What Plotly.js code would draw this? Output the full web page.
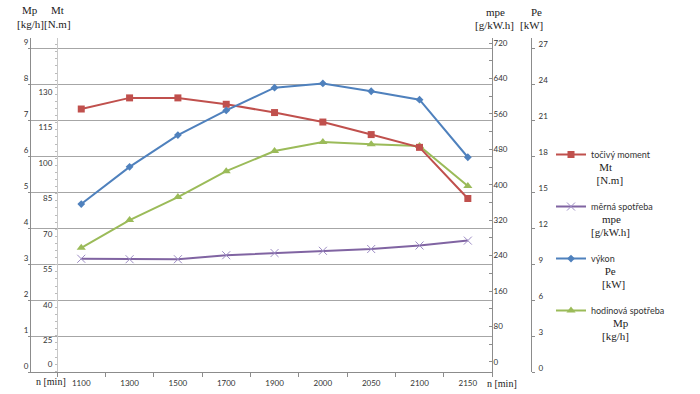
<!DOCTYPE html>
<html>
<head>
<meta charset="utf-8">
<script src="https://cdn.plot.ly/plotly-3.0.1.min.js"></script>
<style>html,body{margin:0;padding:0;background:#fff;}#chart{width:700px;height:394px;}</style>
</head>
<body>
<div id="chart"></div>
<script>
// ---- data ----
const rpm = ['1100','1300','1500','1700','1900','2000','2050','2100','2150'];
const torqueMt = [122.8, 127.5, 127.5, 124.8, 121.3, 117.3, 112.0, 106.6, 85.0];      // N.m
const specificMpe = [233, 232, 232, 241, 246, 251, 255, 263, 274];                    // g/kW.h
const powerPe = [14.0, 17.1, 19.75, 21.8, 23.7, 24.05, 23.4, 22.7, 17.9];             // kW
const hourlyMp = [3.45, 4.22, 4.86, 5.58, 6.14, 6.39, 6.33, 6.28, 5.17];              // kg/h

const mpTicks = [0,1,2,3,4,5,6,7,8,9];
const mtTickVals = [15,25,40,55,70,85,100,115,130];
const mtTickText = ['0','25','40','55','70','85','100','115','130'];
const mpeTicks = [0,80,160,240,320,400,480,560,640,720];
const peTicks = [0,3,6,9,12,15,18,21,24,27];

const names = {
  mt: ['točivý moment', 'Mt', '[N.m]', 3, 2],
  mpe: ['měrná spotřeba', 'mpe', '[g/kW.h]', 4, 0],
  pe: ['výkon', 'Pe', '[kW]', 5, 4],
  mp: ['hodinová spotřeba', 'Mp', '[kg/h]', 8, 4]
};
const NB = '\u00A0';
function legName(k){
  const n = names[k];
  const serif = "font-family:'Liberation Serif',serif;font-size:11px;color:#222";
  return '<span style="font-size:9px">' + n[0] + '</span><br>' +
         '<span style="' + serif + '">' + NB.repeat(n[3]) + n[1] + '</span><br>' +
         '<span style="' + serif + '">' + NB.repeat(n[4]) + n[2] + '</span>';
}

const RED='#C0504D', BLUE='#4F81BD', GREEN='#9BBB59', PURPLE='#8064A2';

const traces = [
  {x: rpm, y: torqueMt, yaxis:'y2', name: legName('mt'), legendgroup:'a', mode:'lines+markers',
   line:{color:RED, width:2}, marker:{symbol:'square', size:7, color:RED}},
  {x: rpm, y: specificMpe, yaxis:'y3', name: legName('mpe'), legendgroup:'b', mode:'lines+markers',
   line:{color:PURPLE, width:2}, marker:{symbol:'x-thin', size:8, color:'#9d8cc4', line:{color:'#9d8cc4', width:1}}},
  {x: rpm, y: powerPe, yaxis:'y4', name: legName('pe'), legendgroup:'c', mode:'lines+markers',
   line:{color:BLUE, width:2}, marker:{symbol:'diamond', size:6, color:BLUE}},
  {x: rpm, y: hourlyMp, yaxis:'y', name: legName('mp'), legendgroup:'d', mode:'lines+markers',
   line:{color:GREEN, width:2}, marker:{symbol:'triangle-up', size:8, color:GREEN}}
];

const tickFont = {family:'Lato, sans-serif', size:8, color:'#333'};
const titleFont = {family:"'Liberation Serif', serif", size:11, color:'#222'};
const AX='#8c8c8c';

function ann(px, py, text, size){
  return {xref:'paper', yref:'paper', x:(px-31)/500, y:(372-py)/334, xanchor:'center', yanchor:'middle',
          text:text, showarrow:false, font:Object.assign({}, titleFont, size ? {size:size} : {})};
}

const layout = {
  width:700, height:394,
  margin:{l:31, r:169, t:38, b:22, pad:0},
  paper_bgcolor:'#fff', plot_bgcolor:'#fff',
  showlegend:true,
  hovermode:false,
  font:{family:'Lato, sans-serif', size:9, color:'#333'},
  xaxis:{type:'category', domain:[0,0.922], range:[-1.04, 8.5], tickson:'boundaries',
    ticks:'outside', ticklen:4, tickcolor:AX, showline:true, linecolor:AX, linewidth:1,
    showgrid:false, zeroline:false, tickfont:tickFont, ticklabelstandoff:3, fixedrange:true},
  yaxis:{range:[0, 9.28], tickvals:mpTicks, showgrid:true, gridcolor:'#a6a6a6', gridwidth:1,
    showline:true, linecolor:AX, ticks:'outside', ticklen:2, tickcolor:AX, zeroline:false,
    tickfont:tickFont, ticklabelshift:-6, ticklabelstandoff:-2},
  yaxis2:{overlaying:'y', anchor:'free', position:0.052, side:'left', range:[11.7, 152.8],
    tickvals:mtTickVals, ticktext:mtTickText, showgrid:false, zeroline:false,
    showline:true, linecolor:'#c8c8c8', ticks:'', tickfont:tickFont, ticklabelstandoff:3,
    minor:{ticks:'outside', ticklen:2, tickcolor:'#bbb', dtick:3}},
  yaxis3:{overlaying:'y', anchor:'x', side:'right', range:[-22.6, 731.4],
    tickvals:mpeTicks, showgrid:false, zeroline:false, showline:true, linecolor:AX,
    ticks:'', tickfont:tickFont, ticklabelstandoff:-1,
    minor:{ticks:'inside', ticklen:3, tickcolor:AX, dtick:40}},
  yaxis4:{overlaying:'y', anchor:'free', position:1.0, side:'right', range:[0, 27.84],
    tickvals:peTicks, showgrid:false, zeroline:false, showline:true, linecolor:AX,
    ticks:'outside', ticklen:3, tickcolor:AX, tickfont:tickFont, ticklabelshift:-4, ticklabelstandoff:2},
  legend:{x:1.04, xanchor:'left', y:0.69, yanchor:'top', bgcolor:'rgba(0,0,0,0)',
    font:{family:'Lato, sans-serif', size:10, color:'#333'}, itemwidth:30, valign:'top',
    tracegroupgap:10, traceorder:'grouped'},
  annotations:[
    ann(30, 10, 'Mp'), ann(30, 24, '[kg/h]'),
    ann(57, 10, 'Mt'), ann(57, 24, '[N.m]'),
    ann(495, 12, 'mpe'), ann(494, 25, '[g/kW.h]'),
    ann(536, 12, 'Pe'), ann(531, 25, '[kW]'),
    ann(51, 382, 'n [min]', 10), ann(502, 383, 'n [min]', 10)
  ]
};

Plotly.newPlot('chart', traces, layout, {staticPlot:true, displayModeBar:false});
</script>
</body>
</html>
